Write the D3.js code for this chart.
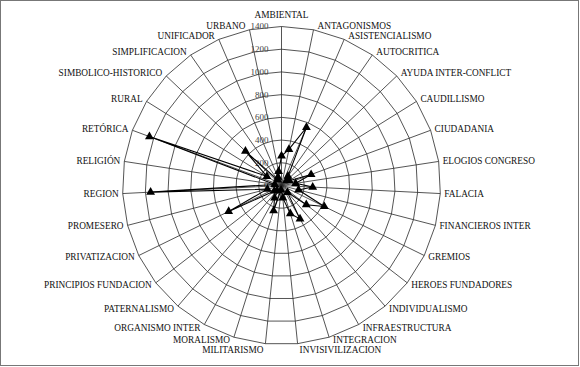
<!DOCTYPE html>
<html>
<head>
<meta charset="utf-8">
<script src="https://cdn.jsdelivr.net/npm/d3@7"></script>
<style>
  body { margin: 0; background: #fff; }
</style>
</head>
<body>
<div id="chart"></div>
<script>
// categories, clockwise from the top
var categories = [
    "AMBIENTAL", "ANTAGONISMOS", "ASISTENCIALISMO", "AUTOCRITICA", "AYUDA INTER-CONFLICT",
    "CAUDILLISMO", "CIUDADANIA", "ELOGIOS CONGRESO", "FALACIA", "FINANCIEROS INTER",
    "GREMIOS", "HEROES FUNDADORES", "INDIVIDUALISMO", "INFRAESTRUCTURA", "INTEGRACION",
    "INVISIVILIZACION", "MILITARISMO", "MORALISMO", "ORGANISMO INTER", "PATERNALISMO",
    "PRINCIPIOS FUNDACION", "PRIVATIZACION", "PROMESERO", "REGION", "RELIGIÓN",
    "RETÓRICA", "RURAL", "SIMBOLICO-HISTORICO", "SIMPLIFICACION", "UNIFICADOR", "URBANO"
];

var values = [
    260, 324, 556, 100, 60,
    80, 278, 126, 275, 155,
    420, 276, 80, 336, 260,
    110, 40, 233, 126, 60,
    80, 518, 128, 1154, 60,
    1240, 152, 438, 60, 80, 126
];

var ticks = [0, 200, 400, 600, 800, 1000, 1200, 1400];

(function () {
    var width = 580,
        height = 367,
        cx = 281.5,
        cy = 185.5,
        R = 159,
        n = categories.length,
        serif = "'Liberation Serif', 'Times New Roman', 'DejaVu Serif', serif";

    var svg = d3.select("#chart").append("svg")
        .attr("width", width)
        .attr("height", height)
        .attr("font-family", serif);

    svg.append("rect")
        .attr("x", 0.5).attr("y", 0.5)
        .attr("width", width - 2).attr("height", height - 2)
        .style("fill", "#fff")
        .style("stroke", "#777")
        .style("stroke-width", 1);

    var r = d3.scaleLinear().domain([0, 1400]).range([0, R]);
    var angle = d3.scaleLinear().domain([0, n]).range([0, 2 * Math.PI]);

    var g = svg.append("g")
        .attr("transform", "translate(" + cx + "," + cy + ")");

    // rings
    var ring = d3.lineRadial()
        .angle(function (d, i) { return angle(i); })
        .curve(d3.curveLinearClosed);

    g.selectAll(".ring")
        .data(ticks.slice(1))
        .enter().append("path")
        .attr("class", "ring")
        .attr("d", function (t) {
            return ring.radius(r(t))(categories);
        })
        .style("fill", "none")
        .style("stroke", "#2a2a2a")
        .style("stroke-width", 0.8);

    // spokes
    g.selectAll(".spoke")
        .data(categories)
        .enter().append("line")
        .attr("class", "spoke")
        .attr("x1", 0).attr("y1", 0)
        .attr("x2", function (d, i) { return r(1400) * Math.sin(angle(i)); })
        .attr("y2", function (d, i) { return -r(1400) * Math.cos(angle(i)); })
        .style("stroke", "#2a2a2a")
        .style("stroke-width", 0.8);

    // value labels
    g.selectAll(".tick")
        .data(ticks)
        .enter().append("text")
        .attr("class", "tick")
        .attr("x", -13)
        .attr("y", function (t) { return -r(t); })
        .attr("dy", "0.33em")
        .attr("text-anchor", "end")
        .style("font-size", "9px")
        .style("fill", "#444")
        .text(function (t) { return t; });

    // category labels
    g.selectAll(".cat")
        .data(categories)
        .enter().append("text")
        .attr("class", "cat")
        .each(function (d, i) {
            var a = angle(i),
                s = Math.sin(a),
                c = Math.cos(a),
                x = R * s,
                y = -R * c,
                anchor = "middle";
            if (Math.abs(s) < 0.05) {
                y -= 12 * c;
            } else {
                anchor = s > 0 ? "start" : "end";
                x += (s > 0 ? 1 : -1) * (Math.abs(s) < 0.15 ? 2 : 4);
                y -= (Math.abs(s) < 0.15 ? 6.5 : (c < -0.9 ? 3 : 4)) * c;
            }
            d3.select(this)
                .attr("x", x)
                .attr("y", y)
                .attr("dy", "0.33em")
                .attr("text-anchor", anchor);
        })
        .style("font-size", "9.3px")
        .style("fill", "#111")
        .text(function (d) { return d; });

    // series
    var line = d3.lineRadial()
        .angle(function (d, i) { return angle(i); })
        .radius(function (d) { return r(d); })
        .curve(d3.curveLinearClosed);

    g.append("path")
        .datum(values)
        .attr("d", line)
        .style("fill", "none")
        .style("stroke", "#000")
        .style("stroke-width", 1.1);

    var tri = d3.symbol().type(d3.symbolTriangle).size(34);

    g.selectAll(".pt")
        .data(values)
        .enter().append("path")
        .attr("class", "pt")
        .attr("d", tri)
        .attr("transform", function (d, i) {
            return "translate(" + (r(d) * Math.sin(angle(i))) + "," + (-r(d) * Math.cos(angle(i))) + ")";
        })
        .style("fill", "#000");
}());
</script>
</body>
</html>
